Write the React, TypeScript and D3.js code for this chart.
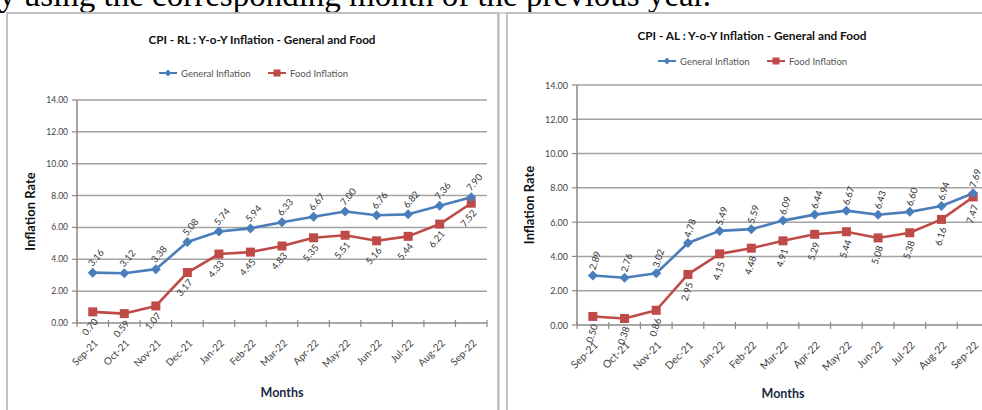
import React, { useEffect, useRef } from "react";
import * as d3 from "d3";

// months on the x axis, same for both panels
const months = [
  "Sep-21", "Oct-21", "Nov-21", "Dec-21", "Jan-22", "Feb-22", "Mar-22",
  "Apr-22", "May-22", "Jun-22", "Jul-22", "Aug-22", "Sep-22",
];
const yTicks = [0, 2, 4, 6, 8, 10, 12, 14];

// CPI - RL
const rlGeneral = [3.16, 3.12, 3.38, 5.08, 5.74, 5.94, 6.33, 6.67, 7.0, 6.76, 6.82, 7.36, 7.9];
const rlFood = [0.7, 0.59, 1.07, 3.17, 4.33, 4.45, 4.83, 5.35, 5.51, 5.16, 5.44, 6.21, 7.52];

// CPI - AL
const alGeneral = [2.89, 2.76, 3.02, 4.78, 5.49, 5.59, 6.09, 6.44, 6.67, 6.43, 6.6, 6.94, 7.69];
const alFood = [0.5, 0.38, 0.86, 2.95, 4.15, 4.48, 4.91, 5.29, 5.44, 5.08, 5.38, 6.16, 7.47];

const seriesNames = ["General Inflation", "Food Inflation"];

const BLUE = "#4A7EBB";
const RED = "#BE4B48";
const FONT = "Lato, 'Open Sans', sans-serif";

interface Cfg {
  title: string;
  general: number[];
  food: number[];
  panel: [number, number, number, number];
  x0: number;
  x1: number;
  yTop: number;
  yBot: number;
  titleX: number;
  titleY: number;
  titleLen: number;
  legendY: number;
  legendX: [number, number];
  rot: number;
  genOff: [number, number];
  foodOff: [number, number];
  tickFont: number;
  xFont: number;
  yTitleX: number;
  xTitleY: number;
}

const drawChart = (g: any, c: Cfg) => {
  g.append("rect")
    .attr("x", c.panel[0]).attr("y", c.panel[1])
    .attr("width", c.panel[2]).attr("height", c.panel[3])
    .attr("fill", "#fff").attr("stroke", "#bcbcbc").attr("stroke-width", 1.8);

  g.append("text")
    .attr("x", c.titleX).attr("y", c.titleY)
    .attr("text-anchor", "middle").attr("dominant-baseline", "central")
    .attr("font-family", FONT).attr("font-weight", "bold").attr("font-size", 12)
    .attr("textLength", c.titleLen).attr("lengthAdjust", "spacingAndGlyphs")
    .attr("fill", "#111")
    .text(c.title);

  // legend
  const colors = [BLUE, RED];
  seriesNames.forEach((name, i) => {
    const lx = c.legendX[i];
    const lg = g.append("g").attr("transform", `translate(${lx},${c.legendY})`);
    lg.append("line").attr("x1", 0).attr("x2", 18).attr("y1", 0).attr("y2", 0)
      .attr("stroke", colors[i]).attr("stroke-width", 2);
    if (i === 0) lg.append("path").attr("d", "M9,-3.5L12.5,0L9,3.5L5.5,0Z").attr("fill", BLUE);
    else lg.append("rect").attr("x", 5.5).attr("y", -3.5).attr("width", 7).attr("height", 7).attr("fill", RED);
    lg.append("text").attr("x", 22).attr("y", 0).attr("dominant-baseline", "central")
      .attr("font-family", FONT).attr("font-size", 9.5).attr("fill", "#555")
      .text(name);
  });

  const x = d3.scaleBand().domain(months).range([c.x0, c.x1]);
  const y = d3.scaleLinear().domain([0, 14]).range([c.yBot, c.yTop]);
  const cx = (i: number) => (x(months[i]) as number) + x.bandwidth() / 2;

  // grid + y axis
  g.selectAll(".grid").data(yTicks.filter((t) => t > 0)).join("line")
    .attr("x1", c.x0).attr("x2", c.x1)
    .attr("y1", (d: number) => y(d)).attr("y2", (d: number) => y(d))
    .attr("stroke", "#a3a3a3").attr("stroke-width", 1.5);
  g.append("line").attr("x1", c.x0).attr("x2", c.x0).attr("y1", c.yTop).attr("y2", c.yBot)
    .attr("stroke", "#8a8a8a").attr("stroke-width", 1.5);
  g.selectAll(".ytick").data(yTicks).join("line")
    .attr("x1", c.x0 - 5).attr("x2", c.x0)
    .attr("y1", (d: number) => y(d)).attr("y2", (d: number) => y(d))
    .attr("stroke", "#8a8a8a").attr("stroke-width", 1.2);
  g.selectAll(".ylab").data(yTicks).join("text")
    .attr("x", c.x0 - 9).attr("y", (d: number) => y(d))
    .attr("text-anchor", "end").attr("dominant-baseline", "central")
    .attr("font-family", FONT).attr("font-size", c.tickFont).attr("fill", "#444")
    .text((d: number) => d.toFixed(2));

  // x axis
  g.append("line").attr("x1", c.x0).attr("x2", c.x1).attr("y1", c.yBot).attr("y2", c.yBot)
    .attr("stroke", "#8a8a8a").attr("stroke-width", 1.5);
  const bounds = months.map((m) => x(m) as number).concat([c.x1]);
  g.selectAll(".xtick").data(bounds).join("line")
    .attr("x1", (d: number) => d).attr("x2", (d: number) => d)
    .attr("y1", c.yBot - 3).attr("y2", c.yBot + 4)
    .attr("stroke", "#8a8a8a").attr("stroke-width", 1.2);
  g.selectAll(".xlab").data(months).join("text")
    .attr("transform", (d: string, i: number) => `translate(${cx(i) + 3},${c.yBot + 18}) rotate(-45)`)
    .attr("text-anchor", "end").attr("dominant-baseline", "central")
    .attr("font-family", FONT).attr("font-size", c.xFont).attr("fill", "#444")
    .text((d: string) => d);

  // axis titles
  g.append("text")
    .attr("transform", `translate(${c.yTitleX},${(c.yTop + c.yBot) / 2}) rotate(-90)`)
    .attr("text-anchor", "middle").attr("dominant-baseline", "central")
    .attr("font-family", FONT).attr("font-weight", "bold").attr("font-size", 13).attr("fill", "#111")
    .text("Inflation Rate");
  g.append("text")
    .attr("x", (c.x0 + c.x1) / 2).attr("y", c.xTitleY)
    .attr("text-anchor", "middle").attr("dominant-baseline", "central")
    .attr("font-family", FONT).attr("font-weight", "bold").attr("font-size", 12.5).attr("fill", "#1a2a44")
    .text("Months");

  // lines
  const line = d3.line<number>().x((d, i) => cx(i)).y((d) => y(d));
  g.append("path").attr("d", line(c.food)).attr("fill", "none")
    .attr("stroke", RED).attr("stroke-width", 2.6).attr("stroke-linejoin", "round");
  g.append("path").attr("d", line(c.general)).attr("fill", "none")
    .attr("stroke", BLUE).attr("stroke-width", 2.6).attr("stroke-linejoin", "round");

  g.selectAll(".sq").data(c.food).join("rect")
    .attr("x", (d: number, i: number) => cx(i) - 4.5).attr("y", (d: number) => y(d) - 4.5)
    .attr("width", 9).attr("height", 9).attr("fill", RED);
  g.selectAll(".dm").data(c.general).join("path")
    .attr("transform", (d: number, i: number) => `translate(${cx(i)},${y(d)})`)
    .attr("d", "M0,-5L5,0L0,5L-5,0Z").attr("fill", BLUE);

  // data labels
  const lab = (vals: number[], off: [number, number]) =>
    g.append("g").selectAll("text").data(vals).join("text")
      .attr("transform", (d: number, i: number) =>
        `translate(${cx(i) + off[0]},${y(d) + off[1]}) rotate(${c.rot})`)
      .attr("text-anchor", "middle").attr("dominant-baseline", "central")
      .attr("font-family", FONT).attr("font-size", 9.5).attr("fill", "#333")
      .text((d: number) => d.toFixed(2));
  lab(c.general, c.genOff);
  lab(c.food, c.foodOff);
};

const App: React.FC = () => {
  const svgRef = useRef<SVGSVGElement>(null);

  useEffect(() => {
    const svg = d3.select(svgRef.current);
    svg.selectAll("*").remove();

    svg.append("text")
      .attr("x", -1).attr("y", 6)
      .attr("font-family", "'Liberation Serif', 'Times New Roman', serif")
      .attr("font-size", 33).attr("fill", "#000")
      .text("y using the corresponding month of the previous year.");

    drawChart(svg.append("g"), {
      title: "CPI - RL : Y-o-Y Inflation - General and Food",
      general: rlGeneral,
      food: rlFood,
      panel: [7, 13, 491, 420],
      x0: 77, x1: 487, yTop: 100, yBot: 323,
      titleX: 262, titleY: 39, titleLen: 227, legendY: 73, legendX: [159, 268],
      rot: -50, genOff: [3, -15], foodOff: [-3, 15],
      tickFont: 8.5, xFont: 10, yTitleX: 30, xTitleY: 392,
    });

    svg.append("rect").attr("x", 499).attr("y", 13).attr("width", 500).attr("height", 420)
      .attr("fill", "#fff").attr("stroke", "#bcbcbc").attr("stroke-width", 1.2);

    drawChart(svg.append("g"), {
      title: "CPI - AL : Y-o-Y Inflation - General and Food",
      general: alGeneral,
      food: alFood,
      panel: [507, 13, 500, 420],
      x0: 577, x1: 989, yTop: 85, yBot: 325,
      titleX: 752, titleY: 35, titleLen: 229, legendY: 61, legendX: [658, 767],
      rot: -72, genOff: [2, -15], foodOff: [-1, 17],
      tickFont: 9, xFont: 10.5, yTitleX: 529, xTitleY: 393,
    });
  }, []);

  return (
    <svg
      ref={svgRef}
      width={982}
      height={410}
      style={{ position: "absolute", left: 0, top: 0, background: "#fff" }}
    />
  );
};

export default App;
